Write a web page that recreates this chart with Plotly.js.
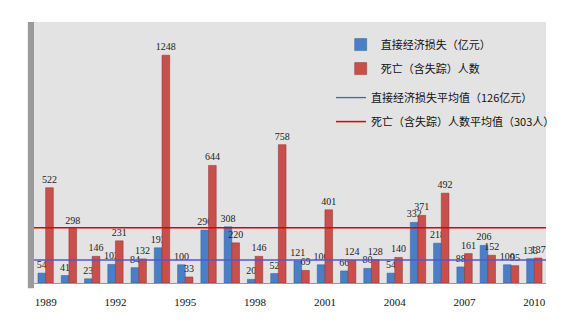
<!DOCTYPE html>
<html>
<head>
<meta charset="utf-8">
<script src="https://cdn.plot.ly/plotly-3.0.1.min.js"></script>
<style>html,body{margin:0;padding:0;background:#fff;}#chart{width:576px;height:328px;}</style>
</head>
<body>
<div id="chart"></div>
<script>
const years = [1989,1990,1991,1992,1993,1994,1995,1996,1997,1998,1999,2000,2001,2002,2003,2004,2005,2006,2007,2008,2009,2010];
const lossValues = [54,41,23,102,84,193,100,290,308,20,52,121,100,66,80,54,332,218,88,206,100,133];
const deathValues = [522,298,146,231,132,1248,33,644,220,146,758,69,401,124,128,140,371,492,161,152,95,137];
const lossAvg = 126;
const deathAvg = 303;
const tickYears = [1989,1992,1995,1998,2001,2004,2007,2010];
const lossName = '直接经济损失（亿元）';
const deathName = '死亡（含失踪）人数';
const lossAvgName = '直接经济损失平均值（126亿元）';
const deathAvgName = '死亡（含失踪）人数平均值（303人）';

const xSpan = [years[0]-0.5, years[years.length-1]+0.5];
const labelFont = {family:'Liberation Serif, serif', size:10, color:'#222'};

const traces = [
  {type:'bar', x:years, y:lossValues, name:lossName, marker:{color:'#4a7fc6', line:{color:'#2f5e9e', width:0.5}},
   text:lossValues.map(String), textposition:'outside', textangle:0, constraintext:'none', cliponaxis:false,
   textfont:labelFont, legend:'legend'},
  {type:'bar', x:years, y:deathValues, name:deathName, marker:{color:'#c8504c', line:{color:'#8e2e2a', width:0.5}},
   text:deathValues.map(String), textposition:'outside', textangle:0, constraintext:'none', cliponaxis:false,
   textfont:labelFont, legend:'legend2'},
  {type:'scatter', mode:'lines', x:xSpan, y:[lossAvg,lossAvg], name:lossAvgName, line:{color:'#5555d5', width:1.3}, legend:'legend3', hoverinfo:'skip'},
  {type:'scatter', mode:'lines', x:xSpan, y:[deathAvg,deathAvg], name:deathAvgName, line:{color:'#e00000', width:1.5}, legend:'legend4', hoverinfo:'skip'}
];

const legFont = {family:'Noto Sans CJK SC, sans-serif', size:11, color:'#111'};
function leg(x, y){ return {x:x, y:y, xanchor:'left', yanchor:'top', bgcolor:'rgba(0,0,0,0)', font:legFont, itemwidth:30}; }

const layout = {
  width:576, height:328,
  margin:{l:34, r:30, t:22, b:45},
  paper_bgcolor:'#ffffff',
  plot_bgcolor:'#e3e3e3',
  barmode:'group', bargap:0.34, bargroupgap:0,
  showlegend:true,
  legend:leg(0.599, 0.969),
  legend2:leg(0.599, 0.877),
  legend3:leg(0.58, 0.766),
  legend4:leg(0.58, 0.674),
  xaxis:{type:'linear', range:xSpan, tickvals:tickYears, ticktext:tickYears.map(String),
         showgrid:false, zeroline:false, showline:true, linecolor:'#999', ticks:'', ticklabelstandoff:9,
         tickfont:{family:'Liberation Serif, serif', size:11, color:'#111'}},
  yaxis:{range:[0,1430], showticklabels:false, showgrid:false, zeroline:false, ticks:'', showline:false},
  shapes:[
    {type:'rect', xref:'paper', yref:'paper', x0:-0.012, x1:0, y0:-0.02, y1:1, fillcolor:'#9a9a9a', line:{width:0}}
  ]
};

Plotly.newPlot('chart', traces, layout, {displayModeBar:false, staticPlot:true});
</script>
</body>
</html>
